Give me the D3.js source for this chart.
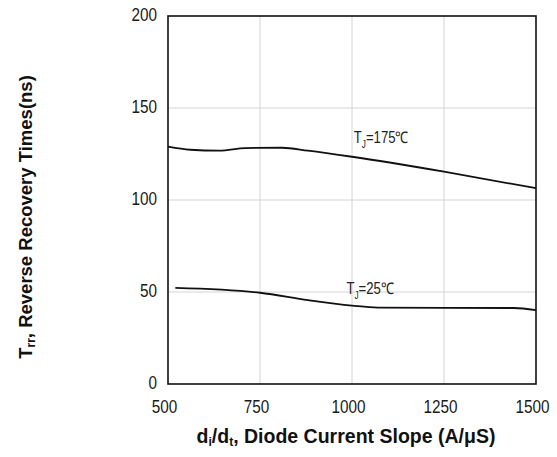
<!DOCTYPE html>
<html>
<head>
<meta charset="utf-8">
<script src="https://cdn.jsdelivr.net/npm/d3@7"></script>
<style>
  html, body { margin: 0; padding: 0; background: #fff; }
  svg { display: block; font-family: "Liberation Sans", Arial, sans-serif; }
</style>
</head>
<body>
<svg id="svg" width="557" height="457"></svg>
<script>
// data
const xTicks = [500, 750, 1000, 1250, 1500];
const yTicks = [0, 50, 100, 150, 200];

const slope175 = [500, 560, 640, 710, 810, 880, 1000, 1250, 1500];
const trr175 = [129, 127.3, 126.8, 128.2, 128.4, 126.8, 123.5, 115.4, 106.4];

const slope25 = [520, 750, 880, 1000, 1070, 1440, 1500];
const trr25 = [52.2, 49.6, 45.6, 42.6, 41.5, 41.3, 40.2];

const curveLabels = [
  { x: 1005, y: 131, temp: "175℃" },
  { x: 985, y: 49, temp: "25℃" }
];

const plotL = 168, plotR = 536, plotT = 16, plotB = 384;
const narrow = 0.85;

const svg = d3.select("#svg");

const x = d3.scaleLinear().domain([500, 1500]).range([plotL, plotR]);
const y = d3.scaleLinear().domain([0, 200]).range([plotB, plotT]);

// grid
svg.append("g")
  .selectAll("line")
  .data(xTicks.slice(1, -1))
  .join("line")
  .attr("x1", (d) => x(d)).attr("x2", (d) => x(d))
  .attr("y1", plotT).attr("y2", plotB)
  .attr("stroke", "#d4d4d4").attr("stroke-width", 1);

svg.append("g")
  .selectAll("line")
  .data(yTicks.slice(1, -1))
  .join("line")
  .attr("x1", plotL).attr("x2", plotR)
  .attr("y1", (d) => y(d)).attr("y2", (d) => y(d))
  .attr("stroke", "#d4d4d4").attr("stroke-width", 1);

// axes (labels only, frame drawn separately)
const xAxis = svg.append("g")
  .attr("transform", "translate(0," + plotB + ")")
  .call(d3.axisBottom(x).tickValues(xTicks).tickFormat(d3.format("d")).tickSize(0).tickPadding(0));
xAxis.select(".domain").remove();
xAxis.selectAll("text")
  .attr("y", 29).attr("dy", null)
  .attr("transform", "translate(-4,0) scale(" + narrow + ",1)")
  .style("font-size", "18px").attr("fill", "#1a1a1a");

const yAxis = svg.append("g")
  .attr("transform", "translate(" + plotL + ",0)")
  .call(d3.axisLeft(y).tickValues(yTicks).tickSize(0).tickPadding(0));
yAxis.select(".domain").remove();
yAxis.selectAll("text")
  .attr("x", -13).attr("dy", "0.32em")
  .attr("transform", "translate(0,-1) scale(" + narrow + ",1)")
  .style("font-size", "18px").attr("fill", "#1a1a1a");

// frame
svg.append("rect")
  .attr("x", plotL).attr("y", plotT)
  .attr("width", plotR - plotL).attr("height", plotB - plotT)
  .attr("fill", "none").attr("stroke", "#111").attr("stroke-width", 1.6);

// curves
const line = d3.line()
  .x((d) => x(d[0]))
  .y((d) => y(d[1]))
  .curve(d3.curveMonotoneX);

[[slope175, trr175], [slope25, trr25]].forEach(([xs, ys]) => {
  svg.append("path")
    .datum(xs.map((v, i) => [v, ys[i]]))
    .attr("d", line)
    .attr("fill", "none")
    .attr("stroke", "#111")
    .attr("stroke-width", 1.8);
});

// curve labels
curveLabels.forEach((d) => {
  const t = svg.append("text")
    .attr("transform", "translate(" + x(d.x) + "," + y(d.y) + ") scale(0.82,1)")
    .style("font-size", "16px")
    .attr("fill", "#222");
  t.append("tspan").text("T");
  t.append("tspan").attr("dy", 5).style("font-size", "10px").text("J");
  t.append("tspan").attr("dy", -5).text("=" + d.temp);
});

// x title
const xt = svg.append("text")
  .attr("x", 346).attr("y", 443)
  .attr("text-anchor", "middle")
  .style("font-size", "19.5px").style("font-weight", "bold")
  .attr("fill", "#111");
xt.append("tspan").text("d");
xt.append("tspan").attr("dy", 3).style("font-size", "12px").text("i");
xt.append("tspan").attr("dy", -3).text("/d");
xt.append("tspan").attr("dy", 3).style("font-size", "12px").text("t");
xt.append("tspan").attr("dy", -3).text(", Diode Current Slope (A/μS)");

// y title
const yt = svg.append("text")
  .attr("transform", "translate(32," + 217 + ") rotate(-90)")
  .attr("text-anchor", "middle")
  .style("font-size", "18.5px").style("font-weight", "bold")
  .attr("fill", "#111");
yt.append("tspan").text("T");
yt.append("tspan").attr("dy", 3).style("font-size", "12px").text("rr");
yt.append("tspan").attr("dy", -3).text(", Reverse Recovery Times(ns)");
</script>
</body>
</html>
